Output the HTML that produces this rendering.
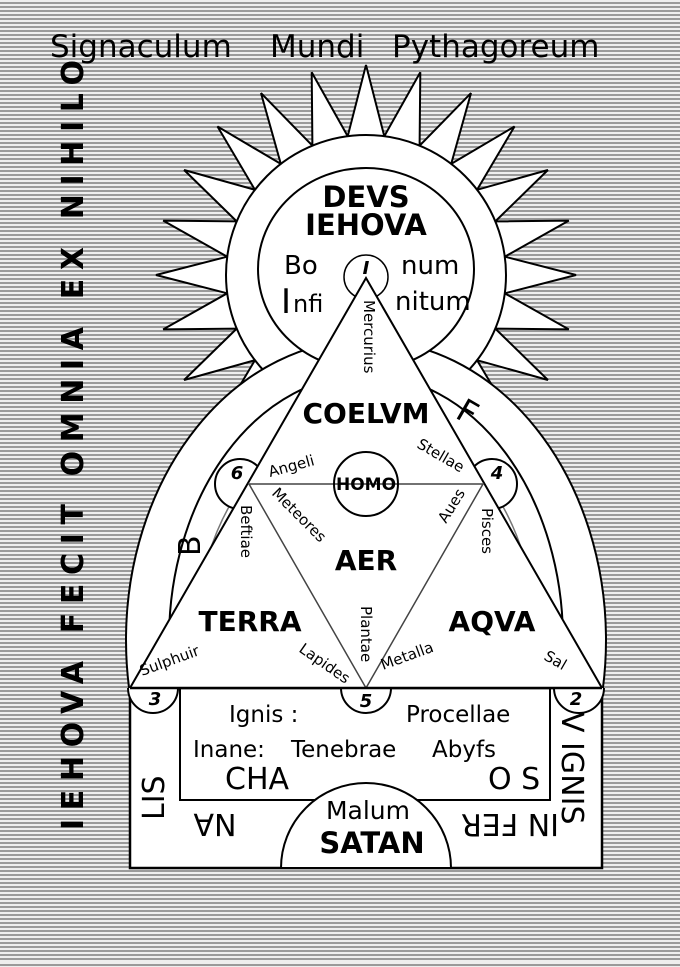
<!DOCTYPE html>
<html><head><meta charset="utf-8"><style>
html,body{margin:0;padding:0;}
body{width:680px;height:962px;overflow:hidden;background:repeating-linear-gradient(to bottom,#eeeeee 0px,#eeeeee 2px,#9a9a9a 2px,#9a9a9a 4px);}
.wrap{position:absolute;left:0;top:0;width:680px;height:962px;}
text{font-family:"DejaVu Sans","Liberation Sans",sans-serif;fill:#000;}
.b{font-weight:bold;}
</style></head><body>
<div class="wrap">
<svg width="680" height="962" viewBox="0 0 680 962" xmlns="http://www.w3.org/2000/svg">
<defs><clipPath id="top"><rect x="0" y="0" width="680" height="689"/></clipPath></defs>
<polygon fill="#fff" stroke="#000" stroke-width="2" points="366,65 384.3,136.2 420.3,72.2 419.6,145.7 471,93.1 451.2,163.9 514.5,126.5 477.1,189.8 547.9,170 495.3,221.4 568.8,220.6 504.8,256.7 576,275 504.8,293.3 568.8,329.4 495.3,328.6 547.9,380 477.1,360.2 514.5,423.5 451.2,386.1 471,456.9 419.6,404.3 420.3,477.8 384.3,413.8 366,485 347.7,413.8 311.7,477.8 312.4,404.3 261,456.9 280.8,386.1 217.5,423.5 254.9,360.2 184.1,380 236.7,328.6 163.2,329.4 227.2,293.3 156,275 227.2,256.7 163.2,220.6 236.7,221.4 184.1,170 254.9,189.8 217.5,126.5 280.8,163.9 261,93.1 312.4,145.7 311.7,72.2 347.7,136.2"/>
<circle cx="366" cy="275" r="140" fill="#fff" stroke="#000" stroke-width="2"/>
<g clip-path="url(#top)">
<ellipse cx="366" cy="640" rx="240" ry="300" fill="#fff" stroke="#000" stroke-width="2"/>
<ellipse cx="366" cy="640" rx="197" ry="265" fill="#fff" stroke="#000" stroke-width="2"/>
<ellipse cx="366" cy="640" rx="170" ry="225" fill="none" stroke="#777" stroke-width="1.5"/>
</g>
<ellipse cx="366" cy="269" rx="108" ry="101" fill="#fff" stroke="#000" stroke-width="2"/>
<circle cx="240" cy="484" r="25" fill="#fff" stroke="#000" stroke-width="2"/>
<circle cx="492" cy="484" r="25" fill="#fff" stroke="#000" stroke-width="2"/>
<circle cx="366" cy="277" r="22" fill="#fff" stroke="#000" stroke-width="1.5"/>
<rect x="130" y="688" width="472" height="180" fill="#fff" stroke="#000" stroke-width="2.5"/>
<rect x="180" y="688" width="370" height="112" fill="none" stroke="#000" stroke-width="2"/>
<path d="M281 868 A85 85 0 0 1 451 868 Z" fill="#fff" stroke="#000" stroke-width="2"/>
<polygon points="366,278 130,688 602,688" fill="#fff" stroke="#000" stroke-width="2"/>
<polygon points="249,484 483,484 366,688" fill="none" stroke="#444" stroke-width="1.5"/>
<circle cx="366" cy="484" r="32" fill="none" stroke="#000" stroke-width="2"/>
<path d="M128 688 A25 25 0 0 0 178 688" fill="#fff" stroke="#000" stroke-width="2"/>
<path d="M554 688 A25 25 0 0 0 604 688" fill="#fff" stroke="#000" stroke-width="2"/>
<path d="M341 688 A25 25 0 0 0 391 688" fill="#fff" stroke="#000" stroke-width="2"/>
<line x1="130" y1="688" x2="602" y2="688" stroke="#000" stroke-width="2.5"/>

<text x="50" y="57" font-size="31">Signaculum</text>
<text x="270" y="57" font-size="31">Mundi</text>
<text x="392" y="57" font-size="31">Pythagoreum</text>
<text class="b" transform="translate(83,830) rotate(-90)" font-size="30" textLength="770" lengthAdjust="spacing">IEHOVA FECIT OMNIA EX NIHILO</text>

<text class="b" x="366" y="207" font-size="29" text-anchor="middle">DEVS</text>
<text class="b" x="366" y="235" font-size="29" text-anchor="middle">IEHOVA</text>
<text x="284" y="274" font-size="26">Bo</text>
<text x="401" y="274" font-size="26">num</text>
<text x="281" y="313" font-size="34">I</text><text x="293" y="312" font-size="24">nfi</text>
<text x="395" y="310" font-size="26">nitum</text>
<text class="b" x="366" y="274" font-size="18" font-style="italic" text-anchor="middle">I</text>
<text transform="translate(364,300) rotate(90)" font-size="15">Mercurius</text>
<text class="b" x="366" y="423" font-size="28" text-anchor="middle">COELVM</text>
<text transform="translate(454,417) rotate(30)" font-size="32">F</text>
<text transform="translate(200,556) rotate(-90)" font-size="30">B</text>
<text transform="translate(270,477) rotate(-15)" font-size="15">Angeli</text>
<text transform="translate(416,447) rotate(30)" font-size="15">Stellae</text>
<text transform="translate(271,494) rotate(45)" font-size="15">Meteores</text>
<text transform="translate(446,524) rotate(-58)" font-size="15">Aues</text>
<text transform="translate(241,505) rotate(90)" font-size="15">Beftiae</text>
<text transform="translate(482,508) rotate(90)" font-size="15">Pisces</text>
<text class="b" x="366" y="490" font-size="17" text-anchor="middle">HOMO</text>
<text class="b" x="366" y="570" font-size="28" text-anchor="middle">AER</text>
<text class="b" x="250" y="631" font-size="28" text-anchor="middle">TERRA</text>
<text class="b" x="492" y="631" font-size="28" text-anchor="middle">AQVA</text>
<text transform="translate(361,606) rotate(90)" font-size="15">Plantae</text>
<text transform="translate(298,651) rotate(35)" font-size="15">Lapides</text>
<text transform="translate(383,670) rotate(-20)" font-size="15">Metalla</text>
<text transform="translate(142,676) rotate(-20)" font-size="15">Sulphuir</text>
<text transform="translate(543,659) rotate(30)" font-size="15">Sal</text>
<text class="b" x="155" y="705" font-size="18" font-style="italic" text-anchor="middle">3</text>
<text class="b" x="366" y="707" font-size="18" font-style="italic" text-anchor="middle">5</text>
<text class="b" x="576" y="705" font-size="18" font-style="italic" text-anchor="middle">2</text>
<text class="b" x="237" y="479" font-size="18" font-style="italic" text-anchor="middle">6</text>
<text class="b" x="497" y="479" font-size="18" font-style="italic" text-anchor="middle">4</text>
<text x="229" y="722" font-size="23">Ignis :</text>
<text x="406" y="722" font-size="23">Procellae</text>
<text x="193" y="757" font-size="23">Inane:</text>
<text x="291" y="757" font-size="23">Tenebrae</text>
<text x="432" y="757" font-size="23">Abyfs</text>
<text x="225" y="789" font-size="30">CHA</text>
<text x="488" y="789" font-size="30">O S</text>
<text transform="translate(164,820) rotate(-90)" font-size="30">LIS</text>
<text transform="translate(215,814) rotate(180)" font-size="30" text-anchor="middle">NA</text>
<text transform="translate(510,814) rotate(180)" font-size="30" text-anchor="middle">IN FER</text>
<text transform="translate(562,712) rotate(90)" font-size="30">V IGNIS</text>
<text x="368" y="819" font-size="25" text-anchor="middle">Malum</text>
<text class="b" x="372" y="853" font-size="29" text-anchor="middle">SATAN</text>
</svg>
</div>
</body></html>
